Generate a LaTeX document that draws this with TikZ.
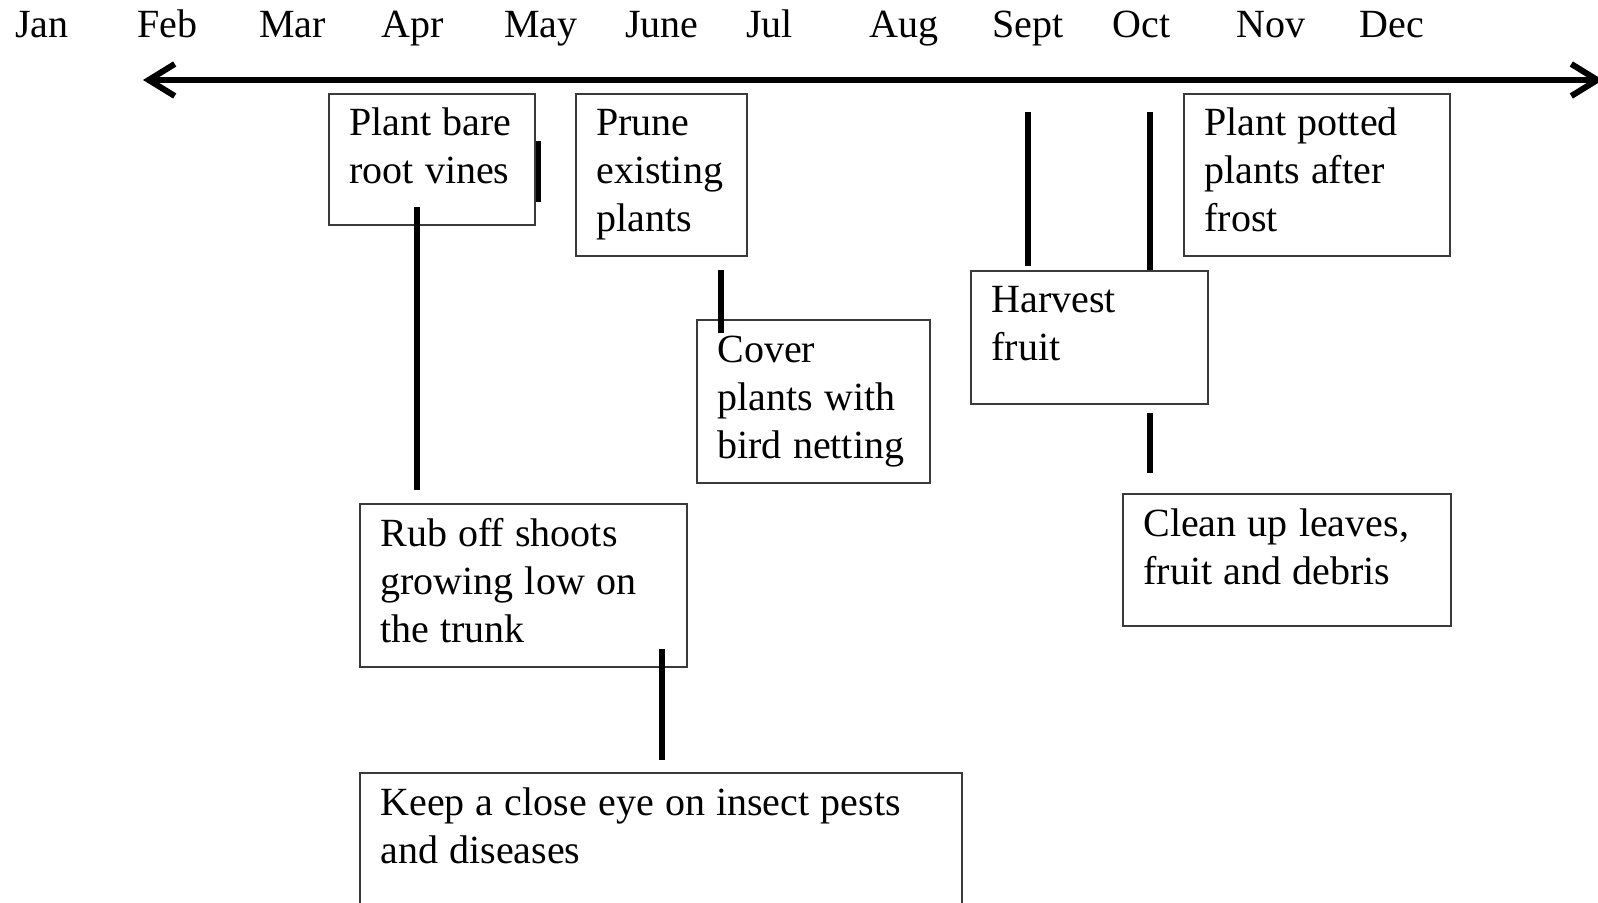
\documentclass[tikz,border=0pt]{standalone}
\usepackage{fontspec}
\setmainfont{Liberation Serif}[WordSpace=1.12]
\usepackage{tikz}
\usetikzlibrary{arrows.meta,fit}
\definecolor{framec}{HTML}{3A3A3A}
\tikzset{
  box/.style={draw=framec,line width=1pt,fill=white,inner sep=0pt},
  ttext/.style={anchor=base west,inner sep=0pt,text width=290pt,align=flush left,font=\fontsize{20}{24}\selectfont},
  month/.style={anchor=base west,inner sep=0pt,font=\fontsize{20}{24}\selectfont},
  bar/.style={line width=2.75pt},
  axis/.style={line width=3pt,{Straight Barb[length=13pt,width=16pt]}-{Straight Barb[length=13pt,width=16pt]}},
}
\newcommand{\task}[4]{\node[box,fit={(#2) (#3)}] (#1) {};\node[ttext] (#1t) at ([shift={(21,43)}]#1.north west) {#4};}

\begin{document}
\begin{tikzpicture}[x=0.5pt,y=-0.5pt]
  \useasboundingbox (0,0) rectangle (1598,903);
  \clip (0,0) rectangle (1598,903);
  % months and timeline
  \foreach \m/\x in {Jan/15,Feb/137,Mar/259,Apr/381,May/504,June/625,Jul/746,Aug/869,Sept/992,Oct/1112,Nov/1236,Dec/1359}
    \node[month] (m\m) at (\x,38) {\m};
  \coordinate (tl) at (143,80); \coordinate (tr) at (1603,80);
  \draw[axis] (tl) -- (tr);
  % tasks
  \task{pb}{329,94}{535,225}{Plant bare\\root vines}
  \task{pe}{576,94}{747,256}{Prune\\existing\\plants}
  \task{cn}{697,320}{930,483}{Cover\\plants with\\bird netting}
  \task{hf}{971,271}{1208,404}{Harvest\\fruit}
  \task{pp}{1184,94}{1450,256}{Plant potted\\plants after\\frost}
  \task{cl}{1123,494}{1451,626}{Clean up leaves,\\fruit and debris}
  \task{ro}{360,504}{687,667}{Rub off shoots\\growing low on\\the trunk}
  \task{ke}{360,773}{962,940}{Keep a close eye on insect pests\\and diseases}
  % bars
  \coordinate (s1a) at (538.5,141); \coordinate (s1b) at (538.5,202);
  \coordinate (d1a) at (417,207);   \coordinate (d1b) at (417,490);
  \coordinate (d2a) at (721,270);   \coordinate (d2b) at (721,333);
  \coordinate (sea) at (1028,112);  \coordinate (seb) at (1028,266);
  \coordinate (oca) at (1150,112);  \coordinate (ocb) at (1150,270);
  \coordinate (oda) at (1150,413);  \coordinate (odb) at (1150,473);
  \coordinate (d3a) at (662,649);   \coordinate (d3b) at (662,760);
  \draw[bar] (s1a) -- (s1b);
  \draw[bar] (d1a) -- (d1b);
  \draw[bar] (d2a) -- (d2b);
  \draw[bar] (sea) -- (seb);
  \draw[bar] (oca) -- (ocb);
  \draw[bar] (oda) -- (odb);
  \draw[bar] (d3a) -- (d3b);
\end{tikzpicture}
\end{document}
